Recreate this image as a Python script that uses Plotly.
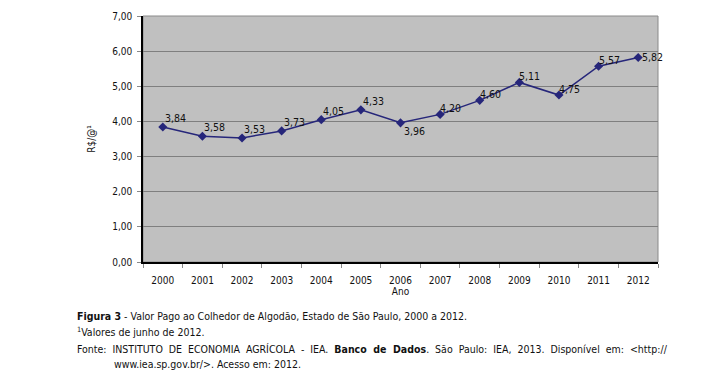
import plotly.graph_objects as go

anos = ["2000", "2001", "2002", "2003", "2004", "2005", "2006", "2007", "2008", "2009", "2010", "2011", "2012"]
valores = [3.84, 3.58, 3.53, 3.73, 4.05, 4.33, 3.96, 4.20, 4.60, 5.11, 4.75, 5.57, 5.82]
rotulos = [f"{v:.2f}".replace(".", ",") for v in valores]
# label offsets in pixels (x, y), label placement relative to point
deslocamentos = [(0, 9)] * 6 + [(1, -8)] + [(-2, 6)] * 5 + [(2, 0)]
y_ticks = [0, 1, 2, 3, 4, 5, 6, 7]
y_ticktext = [f"{v},00" for v in y_ticks]

FONT = "DejaVu Sans Condensed, Open Sans, sans-serif"

fig = go.Figure()
fig.add_trace(go.Scatter(
    x=anos, y=valores, mode="lines+markers",
    line=dict(color="#26267a", width=1.5),
    marker=dict(symbol="diamond", size=7, color="#26267a"),
    cliponaxis=False, showlegend=False,
))

# category axis: annotation x is the category index
for i, (v, r, (dx, dy)) in enumerate(zip(valores, rotulos, deslocamentos)):
    fig.add_annotation(x=i, y=v, text=r, showarrow=False, xanchor="left", yanchor="middle",
                       xshift=dx, yshift=dy, font=dict(family=FONT, size=10.5, color="#111111"))

fig.update_layout(
    width=708, height=392,
    margin=dict(l=135, r=58, t=8, b=138, autoexpand=False),
    paper_bgcolor="white", plot_bgcolor="#c0c0c0",
    font=dict(family=FONT, size=10, color="#111111"),
    xaxis=dict(
        type="category", range=[-0.5, len(anos) - 0.5],
        tickson="boundaries", ticks="outside", ticklen=4, ticklabelstandoff=8,
        tickcolor="#888888", showline=True, linecolor="black", linewidth=1.5,
        showgrid=False, mirror=False, automargin=False,
        title=dict(text="Ano", standoff=3, font=dict(size=10)),
        tickfont=dict(size=10),
    ),
    yaxis=dict(
        range=[0, 7], tickvals=y_ticks, ticktext=y_ticktext,
        ticks="outside", ticklen=4, tickcolor="#888888", ticklabelstandoff=3,
        showline=True, linecolor="black", linewidth=1.5,
        gridcolor="#7f7f7f", gridwidth=1, automargin=False,
        title=dict(text="R$/@¹", standoff=15, font=dict(size=10)),
        tickfont=dict(size=10), zeroline=False,
    ),
)

fig.add_shape(type="rect", xref="paper", yref="paper", x0=0, y0=0, x1=1, y1=1,
              line=dict(color="#8a8a8a", width=1), layer="below")

captions = [
    (-0.132, -0.2195, "<b>Figura 3</b> - Valor Pago ao Colhedor de Algodão, Estado de São Paulo, 2000 a 2012."),
    (-0.132, -0.2805, "<sup>1</sup>Valores de junho de 2012."),
    (-0.132, -0.3537, "Fonte:  INSTITUTO  DE  ECONOMIA  AGRÍCOLA  -  IEA.  <b>Banco  de  Dados</b>.  São  Paulo:  IEA,  2013.  Disponível  em:  &lt;http://"),
    (-0.0602, -0.4146, "www.iea.sp.gov.br/&gt;. Acesso em: 2012."),
]
for x, y, t in captions:
    fig.add_annotation(xref="paper", yref="paper", x=x, y=y, text=t, showarrow=False,
                       xanchor="left", yanchor="middle", font=dict(family=FONT, size=10.5, color="#111111"))

fig.write_html("out.html")
